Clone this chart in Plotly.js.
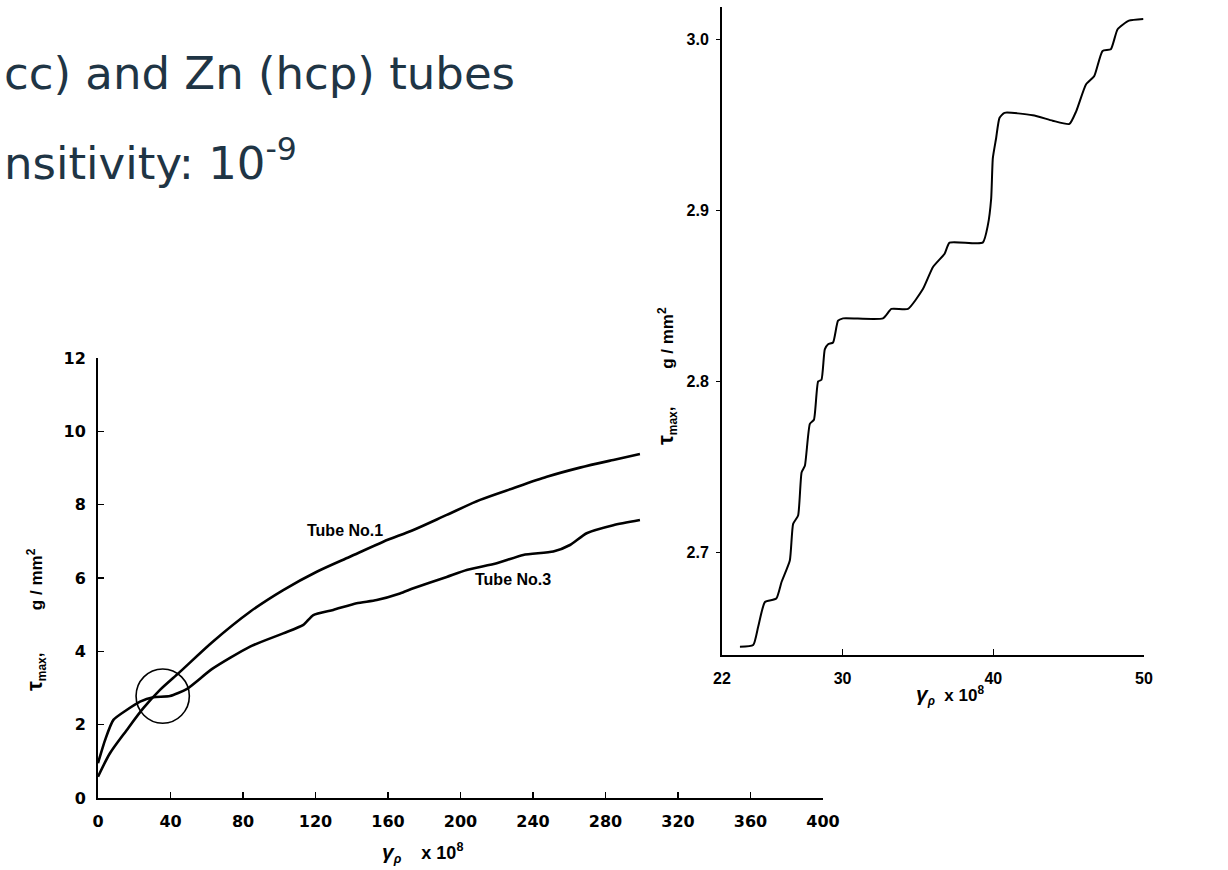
<!DOCTYPE html>
<html>
<head>
<meta charset="utf-8">
<script src="https://cdn.plot.ly/plotly-3.0.1.min.js"></script>
<style>html,body{margin:0;padding:0;background:#fff;}#chart{width:1228px;height:870px;}</style>
</head>
<body>
<div id="chart"></div>
<script>
// Tube No.1 (left panel)
const tube1X = [0, 6.6, 15.8, 25, 34.2, 45.2, 63, 83.9, 102.2, 120.7, 139, 157.4, 174, 192.4, 210.8, 229.1, 247.6, 265.9, 284.3, 299];
const tube1Y = [0.58, 1.22, 1.85, 2.45, 2.95, 3.44, 4.25, 5.08, 5.67, 6.17, 6.58, 6.99, 7.31, 7.72, 8.13, 8.45, 8.76, 9.01, 9.22, 9.38];
// Tube No.3 (left panel)
const tube3X = [0, 3.9, 8.5, 15.8, 23.2, 30.5, 39.7, 48.9, 63, 83.9, 102.2, 113.3, 118.8, 129.8, 142.7, 153.8, 166.6, 174, 192.4, 203.4, 220, 234.6, 251.2, 260.4, 269.6, 284.3, 299];
const tube3Y = [0.95, 1.58, 2.13, 2.4, 2.63, 2.75, 2.78, 2.97, 3.52, 4.13, 4.49, 4.72, 4.99, 5.13, 5.31, 5.4, 5.58, 5.72, 6.03, 6.22, 6.4, 6.63, 6.72, 6.9, 7.22, 7.44, 7.58];
// Detail of the circled region (right panel)
const detailX = [23.19, 24.07, 24.4, 24.85, 25.6, 25.95, 26.5, 26.72, 27.05, 27.28, 27.5, 27.83, 28.1, 28.38, 28.6, 28.82, 29.04, 29.37, 29.7, 30.03, 32.68, 33.24, 34.34, 35.33, 36.0, 36.77, 37.1, 39.3, 39.64, 39.86, 39.97, 40.19, 40.41, 40.74, 42.62, 43.94, 45.05, 45.5, 46.15, 46.7, 47.25, 47.8, 48.25, 49.0, 49.95];
const detailY = [2.6448, 2.6458, 2.6565, 2.671, 2.673, 2.6827, 2.6953, 2.7167, 2.7216, 2.7468, 2.7507, 2.7752, 2.7776, 2.80, 2.801, 2.8188, 2.8218, 2.8228, 2.8355, 2.8369, 2.8369, 2.8424, 2.8424, 2.854, 2.8669, 2.8747, 2.8812, 2.8812, 2.8914, 2.907, 2.9306, 2.9424, 2.9541, 2.9571, 2.9557, 2.9525, 2.9506, 2.958, 2.9737, 2.9786, 2.9933, 2.9943, 3.006, 3.011, 3.012];
// Tick labels
const leftXTicks = [0, 40, 80, 120, 160, 200, 240, 280, 320, 360, 400];
const leftYTicks = [0, 2, 4, 6, 8, 10, 12];
const rightXTicks = [22, 30, 40, 50];
const rightYTicks = [2.7, 2.8, 2.9, 3.0];
const rightYTickText = ['2.7', '2.8', '2.9', '3.0'];
const circleCenter = [35.7, 2.78];
const circleRadius = [14.7, 0.74];

const W = 1228, H = 870;
const px = v => v / W;
const py = v => (H - v) / H;
const tickFontL = {family: 'DejaVu Sans, sans-serif', size: 16, color: '#000', weight: 'bold'};
const tickFontR = {family: 'Liberation Sans, Arial, sans-serif', size: 16, color: '#000', weight: 'bold'};
const lab = {family: 'Liberation Sans, Arial, sans-serif', size: 17, color: '#000', weight: 'bold'};
const titleFont = {family: 'DejaVu Sans, sans-serif', size: 45, color: '#1f3545'};

const traces = [
  {x: tube1X, y: tube1Y, xaxis: 'x', yaxis: 'y', mode: 'lines', line: {color: '#000', width: 2.6, shape: 'spline', smoothing: 0.8}, name: 'Tube No.1', hoverinfo: 'x+y'},
  {x: tube3X, y: tube3Y, xaxis: 'x', yaxis: 'y', mode: 'lines', line: {color: '#000', width: 2.6, shape: 'spline', smoothing: 0.6}, name: 'Tube No.3', hoverinfo: 'x+y'},
  {x: detailX, y: detailY, xaxis: 'x2', yaxis: 'y2', mode: 'lines', line: {color: '#000', width: 2, shape: 'spline', smoothing: 0.5}, name: 'detail', hoverinfo: 'x+y'}
];

const layout = {
  width: W, height: H,
  margin: {l: 0, r: 0, t: 0, b: 0},
  paper_bgcolor: '#fff', plot_bgcolor: 'rgba(0,0,0,0)',
  showlegend: false,
  xaxis: {domain: [px(98), px(823)], anchor: 'y', range: [0, 400], tickvals: leftXTicks,
    ticks: 'inside', ticklen: 6, tickwidth: 1.5, tickcolor: '#000', showline: true, linecolor: '#000', linewidth: 2,
    showgrid: false, zeroline: false, tickfont: tickFontL, ticklabelstandoff: 8},
  yaxis: {domain: [py(798), py(358)], anchor: 'x', range: [0, 12], tickvals: leftYTicks,
    ticks: 'inside', ticklen: 6, tickwidth: 1.5, tickcolor: '#000', showline: true, linecolor: '#000', linewidth: 2,
    showgrid: false, zeroline: false, tickfont: tickFontL, ticklabelstandoff: 7},
  xaxis2: {domain: [px(722), px(1144)], anchor: 'y2', range: [22, 50], tickvals: rightXTicks,
    ticks: 'inside', ticklen: 6, tickwidth: 1.5, tickcolor: '#000', showline: true, linecolor: '#000', linewidth: 2,
    showgrid: false, zeroline: false, tickfont: tickFontR, ticklabelstandoff: 8},
  yaxis2: {domain: [py(655), py(7)], anchor: 'x2', range: [2.64, 3.019], tickvals: rightYTicks, ticktext: rightYTickText,
    ticks: 'outside', ticklen: 4, tickwidth: 1.5, tickcolor: '#000', showline: true, linecolor: '#000', linewidth: 2,
    showgrid: false, zeroline: false, tickfont: tickFontR, ticklabelstandoff: 4},
  shapes: [
    {type: 'circle', xref: 'x', yref: 'y',
     x0: circleCenter[0] - circleRadius[0], x1: circleCenter[0] + circleRadius[0],
     y0: circleCenter[1] - circleRadius[1], y1: circleCenter[1] + circleRadius[1],
     line: {color: '#000', width: 1.6}}
  ],
  annotations: [
    {xref: 'paper', yref: 'paper', x: px(2), y: py(74), xanchor: 'left', yanchor: 'middle', showarrow: false,
     text: 'cc) and Zn (hcp) tubes', font: titleFont},
    {xref: 'paper', yref: 'paper', x: px(2), y: py(160), xanchor: 'left', yanchor: 'middle', showarrow: false,
     text: 'nsitivity: 10<sup>-9</sup>', font: titleFont},
    {xref: 'x', yref: 'y', x: 136, y: 7.3, xanchor: 'center', yanchor: 'middle', showarrow: false, text: 'Tube No.1',
     font: {family: 'Liberation Sans, Arial, sans-serif', size: 16, color: '#000', weight: 'bold'}},
    {xref: 'x', yref: 'y', x: 229, y: 5.95, xanchor: 'center', yanchor: 'middle', showarrow: false, text: 'Tube No.3',
     font: {family: 'Liberation Sans, Arial, sans-serif', size: 16, color: '#000', weight: 'bold'}},
    {xref: 'paper', yref: 'paper', x: px(35), y: py(620), xanchor: 'center', yanchor: 'middle', textangle: -90, showarrow: false,
     text: '<span style="font-size:22px">τ</span><sub>max</sub>,         g / mm<sup>2</sup>', font: lab},
    {xref: 'paper', yref: 'paper', x: px(666), y: py(376), xanchor: 'center', yanchor: 'middle', textangle: -90, showarrow: false,
     text: '<span style="font-size:22px">τ</span><sub>max</sub>,        g / mm<sup>2</sup>', font: lab},
    {xref: 'paper', yref: 'paper', x: px(422), y: py(853), xanchor: 'center', yanchor: 'middle', showarrow: false,
     text: '<i><span style="font-size:21px">γ</span><sub>ρ</sub></i>    x 10<sup>8</sup>', font: {family: 'Liberation Sans, Arial, sans-serif', size: 18, color: '#000', weight: 'bold'}},
    {xref: 'paper', yref: 'paper', x: px(950), y: py(695), xanchor: 'center', yanchor: 'middle', showarrow: false,
     text: '<i><span style="font-size:21px">γ</span><sub>ρ</sub></i>  x 10<sup>8</sup>', font: lab}
  ]
};

Plotly.newPlot('chart', traces, layout, {displayModeBar: false, staticPlot: true});
</script>
</body>
</html>
